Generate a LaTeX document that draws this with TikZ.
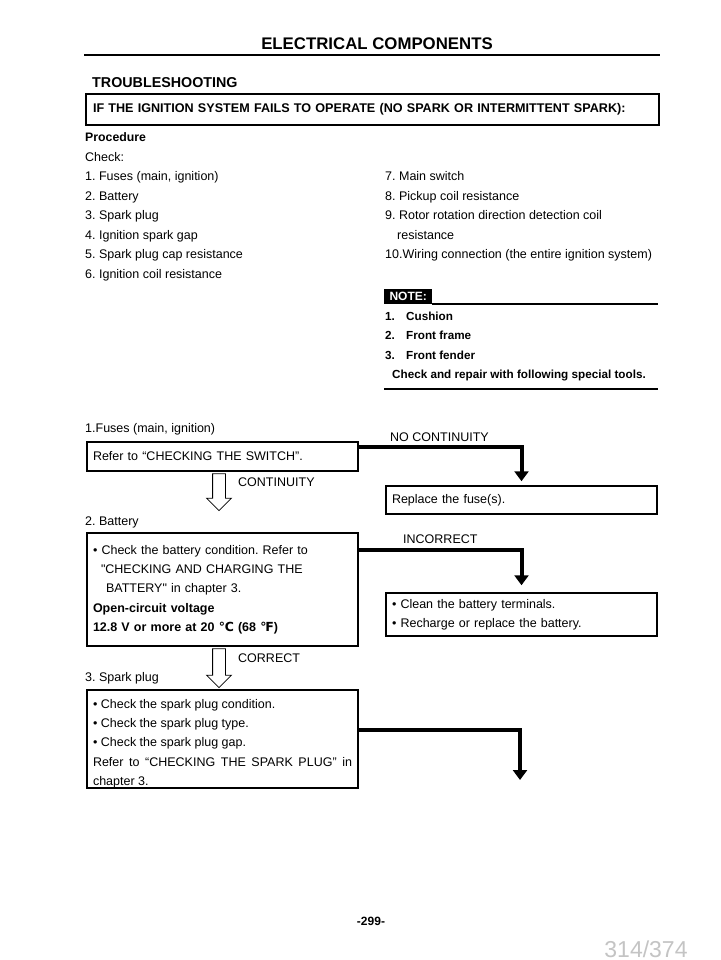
\documentclass[tikz,border=0pt]{standalone}
\usepackage{fontspec}
\setmainfont{Liberation Sans}
\newfontfamily\symfont{DejaVu Sans}
\newfontfamily\quotefont{Liberation Sans}
\frenchspacing
\usetikzlibrary{
  arrows.meta,
  positioning,
  calc,
  shapes.arrows
}
\definecolor{pgGrey}{HTML}{C4C4C4}
\tikzset{
  txt/.style={anchor=base west, inner sep=0pt, font=\fontsize{12.5}{14}\selectfont},
  btxt/.style={txt, font=\fontsize{12.3}{14}\selectfont\bfseries},
  notetxt/.style={txt, font=\fontsize{11.7}{14}\selectfont\bfseries},
  flowbox/.style={
    draw, line width=1.5pt, text width=259pt, inner xsep=6pt, inner ysep=0pt,
    align=left, font=\fontsize{12.5}{19.3}\selectfont
  },
  elbow/.style={line width=4pt, -{Triangle[length=10pt, width=14pt]}},
  hollow/.style={
    single arrow, draw, line width=0.8pt, shape border rotate=270, anchor=tail,
    minimum width=24pt, minimum height=37pt, single arrow head extend=6pt, inner sep=6pt
  },
  hrule/.style={line width=2pt}
}
\newcommand{\sq}{{\quotefont"}}
\begin{document}
\begin{tikzpicture}[x=1pt, y=-1pt]
  \useasboundingbox (0,0) rectangle (720,960);
  \fill[white] (0,0) rectangle (720,960);
  % page header
  \node[anchor=base, inner sep=0pt, font=\fontsize{16.8}{20}\selectfont\bfseries] (title) at (377,50) {ELECTRICAL COMPONENTS};
  \draw[hrule] (84,55.5) -- (660,55.5);
  \node[btxt, font=\fontsize{14.3}{16}\selectfont\bfseries] (trouble) at (92,88) {TROUBLESHOOTING};
  \node[draw, line width=2pt, text width=559pt, inner xsep=7pt, minimum height=31pt, align=left,
    font=\fontsize{12.6}{14}\selectfont\bfseries] (cond) at (372.5,109.5)
    {IF THE IGNITION SYSTEM FAILS TO OPERATE (NO SPARK OR INTERMITTENT SPARK):};
  % procedure list
  \node[btxt] (proc) at (85,142) {Procedure};
  \node[txt] (check) at (85,162) {Check:};
  \foreach \item [count=\i] in {{1. Fuses (main, ignition)}, {2. Battery}, {3. Spark plug},
      {4. Ignition spark gap}, {5. Spark plug cap resistance}, {6. Ignition coil resistance}}
    \node[txt] (left\i) at (85,{181+19.4*(\i-1)}) {\item};
  \node[txt] (right1) at (385,181) {7. Main switch};
  \node[txt] (right2) at (385,200.4) {8. Pickup coil resistance};
  \node[txt] (right3) at (385,219.8) {9. Rotor rotation direction detection coil};
  \node[txt] (right4) at (397,239.2) {resistance};
  \node[txt] (right5) at (385,258.6) {10.Wiring connection (the entire ignition system)};
  % note
  \node[fill=black, text=white, font=\fontsize{12}{14}\selectfont\bfseries, minimum width=48pt,
    minimum height=15pt, inner sep=0pt, anchor=south west] (note) at (384,304) {NOTE:};
  \draw[hrule] (note.south east) -- (658,304);
  \node[notetxt] (note1) at (385,320) {\makebox[21pt][l]{1.}Cushion};
  \node[notetxt] (note2) at (385,339.5) {\makebox[21pt][l]{2.}Front frame};
  \node[notetxt] (note3) at (385,359) {\makebox[21pt][l]{3.}Front fender};
  \node[notetxt] (note4) at (392,378.5) {Check and repair with following special tools.};
  \draw[hrule] (384,389) -- (658,389);
  % step 1
  \node[txt] (fusehead) at (85,432) {1.Fuses (main, ignition)};
  \node[flowbox, minimum height=29pt] (fuse) at (222.5,456.5) {Refer to “CHECKING THE SWITCH”.};
  \node[flowbox, minimum height=28pt] (replace) at (521.5,500) {Replace the fuse(s).};
  \draw[elbow] ($(fuse.north east)+(0,6)$) -| ($(replace.north)+(0,-4)$);
  \node[txt] (nocont) at (390,441) {NO CONTINUITY};
  \node[hollow] (go1) at ($(fuse.south)+(-3.5,1.5)$) {};
  \node[txt] (cont) at (238,486) {CONTINUITY};
  % step 2
  \node[txt] (batthead) at (85,525) {2. Battery};
  \node[flowbox, minimum height=113pt] (batt) at (222.5,589.5)
    {• Check the battery condition. Refer to\\
     \hspace*{8pt}\sq CHECKING AND CHARGING THE\\
     \hspace*{13pt}BATTERY\sq{} in chapter 3.\\
     \textbf{Open-circuit voltage}\\
     \textbf{12.8 V or more at 20 {\symfont ℃} (68 {\symfont ℉})}};
  \node[flowbox, minimum height=43pt] (clean) at (521.5,614.5)
    {• Clean the battery terminals.\\
     • Recharge or replace the battery.};
  \draw[elbow] ($(batt.north east)+(0,18)$) -| ($(clean.north)+(0,-7)$);
  \node[txt] (incorr) at (403,543) {INCORRECT};
  \node[hollow, minimum height=39pt] (go2) at ($(batt.south)+(-3.5,1.5)$) {};
  \node[txt] (corr) at (238,662) {CORRECT};
  % step 3
  \node[txt] (sparkhead) at (85,681) {3. Spark plug};
  \node[flowbox, minimum height=96pt, align=justify] (spark) at (222.5,739)
    {\rule{0pt}{18pt}• Check the spark plug condition.\\
     • Check the spark plug type.\\
     • Check the spark plug gap.\\
     Refer to “CHECKING THE SPARK PLUG” in chapter 3.};
  \coordinate (sparkend) at (520,780);
  \draw[elbow] ($(spark.north east)+(0,41)$) -| (sparkend);
  % footer
  \node[anchor=base, inner sep=0pt, font=\fontsize{12}{14}\selectfont\bfseries] (page) at (371,925) {-299-};
  \node[anchor=base, inner sep=0pt, text=pgGrey, font=\fontsize{23}{26}\selectfont] (count) at (646,957) {314/374};
\end{tikzpicture}
\end{document}
